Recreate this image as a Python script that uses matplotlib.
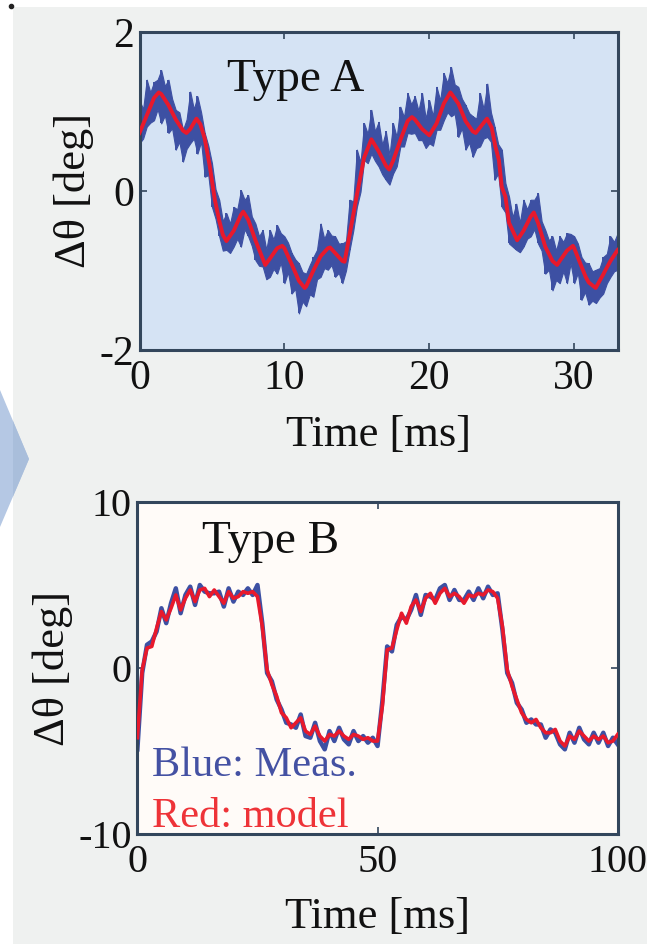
import matplotlib
matplotlib.use("Agg")
import matplotlib.pyplot as plt
from matplotlib.patches import Rectangle, Polygon
from matplotlib.lines import Line2D

# ---------------- Type A data (0 - 33 ms) ----------------
a_model_t = [0.0, 0.5, 1.0, 1.33, 1.5, 2.0, 2.5, 3.0, 3.24, 3.5, 3.93, 4.2, 4.5,
             4.85, 5.0, 5.2, 5.5, 5.75, 6.0, 6.5, 7.0, 7.16, 7.5, 8.0, 8.5, 8.68,
             9.0, 9.5, 9.85, 10.0, 10.5, 11.0, 11.4, 11.5, 12.0, 12.5, 13.0, 13.15,
             13.5, 14.0, 14.15, 14.5, 15.0, 15.5, 16.0, 16.5, 17.0, 17.23, 17.5,
             18.0, 18.5, 18.8, 19.0, 19.5, 20.0, 20.5, 21.0, 21.45, 21.5, 22.0,
             22.5, 23.0, 23.2, 23.5, 23.98, 24.3, 24.56, 24.8, 25.0, 25.25, 25.5,
             26.06, 26.5, 27.0, 27.21, 27.5, 28.0, 28.5, 28.82, 29.0, 29.5, 29.91,
             30.0, 30.5, 30.79, 31.0, 31.48, 32.0, 32.17, 32.5, 33.0, 33.14]
a_model_v = [0.73, 0.95, 1.17, 1.24, 1.22, 1.08, 0.90, 0.76, 0.73, 0.78, 0.91, 0.84, 0.66,
             0.31, 0.13, -0.11, -0.37, -0.55, -0.63, -0.50, -0.30, -0.26, -0.36, -0.62, -0.85, -0.93,
             -0.85, -0.72, -0.69, -0.72, -0.92, -1.13, -1.22, -1.20, -1.00, -0.82, -0.72, -0.71,
             -0.78, -0.88, -0.89, -0.55, -0.05, 0.42, 0.65, 0.50, 0.32, 0.27, 0.38,
             0.64, 0.88, 0.93, 0.90, 0.78, 0.70, 0.85, 1.10, 1.24, 1.23, 1.10,
             0.88, 0.75, 0.73, 0.80, 0.91, 0.80, 0.56, 0.39, 0.05, -0.07, -0.40,
             -0.62, -0.50, -0.32, -0.27, -0.40, -0.70, -0.88, -0.93, -0.88, -0.75, -0.69,
             -0.72, -0.95, -1.08, -1.15, -1.22, -1.05, -0.99, -0.88, -0.74, -0.72]

# measured trace: spike extremes every 0.5 ms ...
a_spike_t = [0.0, 0.5, 1.0, 1.5, 2.0, 2.5, 3.0, 3.5, 4.0, 4.5, 5.0, 5.5, 6.0, 6.5,
             7.0, 7.5, 8.0, 8.5, 9.0, 9.5, 10.0, 10.5, 11.0, 11.5, 12.0, 12.5, 13.0,
             13.5, 14.0, 14.5, 15.0, 15.5, 16.0, 16.5, 17.0, 17.5, 18.0, 18.5, 19.0,
             19.5, 20.0, 20.5, 21.0, 21.5, 22.0, 22.5, 23.0, 23.5, 24.0, 24.5, 25.0,
             25.5, 26.0, 26.5, 27.0, 27.5, 28.0, 28.5, 29.0, 29.5, 30.0, 30.5, 31.0,
             31.5, 32.0, 32.5, 33.0]
a_spike_hi = [1.14, 1.40, 1.37, 1.52, 1.40, 1.02, 0.77, 1.25, 1.19, 0.73, 0.35, -0.11, -0.28,
              -0.20, 0.01, -0.05, -0.41, -0.49, -0.49, -0.43, -0.57, -0.78, -0.91, -1.04, -0.83,
              -0.41, -0.49, -0.57, -0.66, -0.11, 0.52, 0.85, 1.02, 0.87, 0.75, 0.85, 1.06,
              1.23, 1.19, 1.23, 1.14, 1.31, 1.48, 1.56, 1.31, 1.08, 0.94, 1.23, 1.35, 0.81,
              0.52, -0.07, -0.16, -0.11, -0.11, -0.03, -0.49, -0.57, -0.57, -0.53, -0.57,
              -0.83, -0.91, -0.99, -0.83, -0.57, -0.53]
a_spike_lo = [0.60, 0.81, 0.89, 0.85, 0.73, 0.52, 0.37, 0.60, 0.47, 0.18, -0.20, -0.57, -0.74,
              -0.70, -0.70, -0.57, -0.87, -0.95, -1.08, -1.04, -1.16, -1.29, -1.54, -1.45, -1.33,
              -1.08, -0.99, -1.08, -1.16, -0.74, -0.20, 0.39, 0.47, 0.31, 0.14, 0.22, 0.56,
              0.73, 0.73, 0.64, 0.60, 0.77, 0.89, 0.94, 0.68, 0.52, 0.43, 0.56, 0.68, 0.14,
              -0.20, -0.66, -0.74, -0.70, -0.57, -0.66, -1.04, -1.25, -1.16, -1.16, -1.16,
              -1.37, -1.43, -1.41, -1.29, -1.08, -0.99]

# ... and the dense core of the trace in between
a_core_t = [0.25, 0.75, 1.25, 1.75, 2.25, 2.75, 3.25, 3.75, 4.25, 4.75, 5.25, 5.75, 6.25,
            6.75, 7.25, 7.75, 8.25, 8.75, 9.25, 9.75, 10.25, 10.75, 11.25, 11.75, 12.25,
            12.75, 13.25, 13.75, 14.25, 14.75, 15.25, 15.75, 16.25, 16.75, 17.25, 17.75,
            18.25, 18.75, 19.25, 19.75, 20.25, 20.75, 21.25, 21.75, 22.25, 22.75, 23.25,
            23.75, 24.25, 24.75, 25.25, 25.75, 26.25, 26.75, 27.25, 27.75, 28.25, 28.75,
            29.25, 29.75, 30.25, 30.75, 31.25, 31.75, 32.25, 32.75]
a_core_hi = [1.03, 1.24, 1.40, 1.32, 1.16, 0.99, 0.90, 1.03, 0.99, 0.57, 0.02, -0.38, -0.41,
             -0.23, -0.11, -0.32, -0.57, -0.74, -0.61, -0.53, -0.65, -0.86, -1.02, -0.93, -0.74,
             -0.60, -0.56, -0.66, -0.63, -0.13, 0.36, 0.72, 0.75, 0.58, 0.45, 0.68,
             0.93, 1.09, 1.01, 0.91, 0.94, 1.14, 1.36, 1.34, 1.16, 0.98, 0.91,
             1.03, 0.99, 0.59, 0.10, -0.33, -0.40, -0.23, -0.11, -0.38, -0.62, -0.75,
             -0.64, -0.54, -0.66, -0.90, -1.01, -0.97, -0.79, -0.64]
a_core_lo = [0.66, 0.86, 1.03, 0.95, 0.79, 0.62, 0.53, 0.66, 0.62, 0.20, -0.35, -0.75, -0.78,
             -0.60, -0.48, -0.69, -0.94, -1.11, -0.98, -0.90, -1.02, -1.23, -1.39, -1.30, -1.11,
             -0.97, -0.93, -1.03, -1.00, -0.50, -0.01, 0.35, 0.38, 0.21, 0.08, 0.31,
             0.56, 0.72, 0.64, 0.54, 0.57, 0.77, 0.99, 0.97, 0.79, 0.61, 0.54,
             0.66, 0.62, 0.22, -0.27, -0.70, -0.77, -0.60, -0.48, -0.75, -0.99, -1.12,
             -1.01, -0.91, -1.03, -1.27, -1.38, -1.34, -1.16, -1.01]

# ---------------- Type B data (0 - 100 ms) ----------------
b_t = list(range(0, 101))
b_model = [-4.2, -0.1, 1.2, 1.3, 2.4, 3.4, 2.9, 3.6, 4.4, 3.5, 4.2, 4.7, 4.0, 4.7, 4.8,
           4.3, 4.7, 4.3, 3.9, 4.6, 4.2, 4.3, 4.6, 4.5, 4.6, 4.3, 2.5, -0.1, -1.0, -1.7,
           -2.7, -3.0, -3.6, -3.3, -3.0, -3.8, -4.0, -3.5, -4.1, -4.4, -4.0, -4.1, -3.8,
           -4.1, -4.3, -4.0, -4.1, -4.3, -4.2, -4.4, -4.4, -2.3, 1.1, 1.2, 2.3, 3.3, 2.7,
           3.7, 4.1, 3.4, 4.2, 4.5, 3.9, 4.5, 4.8, 4.3, 4.5, 4.3, 3.9, 4.4, 4.3, 4.5, 4.4,
           4.7, 4.6, 4.2, 2.5, -0.1, -1.1, -1.9, -2.7, -3.1, -3.3, -3.1, -3.6, -3.9, -3.9,
           -3.7, -4.4, -4.7, -4.1, -4.3, -3.8, -4.1, -4.4, -4.1, -4.3, -4.1, -4.5, -4.4, -4.0]
b_meas = [-4.9, -0.3, 1.4, 1.6, 2.2, 3.6, 2.7, 3.9, 4.8, 3.3, 4.4, 4.9, 3.8, 5.0, 4.6,
          4.5, 4.5, 4.6, 3.7, 4.8, 4.0, 4.6, 4.4, 4.8, 4.4, 5.0, 2.7, -0.3, -0.8, -1.9,
          -2.5, -3.3, -3.4, -3.6, -2.8, -4.1, -4.2, -3.3, -4.4, -4.9, -3.8, -4.4, -3.6,
          -4.3, -4.6, -3.8, -4.4, -4.1, -4.5, -4.2, -4.7, -2.0, 1.3, 1.0, 2.6, 3.1, 2.9,
          3.5, 4.4, 3.2, 4.4, 4.3, 4.1, 4.8, 5.0, 4.1, 4.7, 4.1, 4.1, 4.6, 4.1, 4.8, 4.2,
          4.9, 4.4, 4.5, 2.3, -0.3, -0.9, -2.1, -2.5, -3.3, -3.1, -3.4, -3.4, -4.2, -3.7,
          -3.9, -4.6, -4.9, -3.9, -4.5, -3.6, -4.3, -4.6, -3.9, -4.5, -3.9, -4.7, -4.2, -4.6]

BLUE = "#3d50a3"
RED = "#e8192c"
SPINE = "#33465c"
INK = "#111111"

plt.rcParams["font.family"] = ["Liberation Serif", "DejaVu Serif"]
plt.rcParams["axes.unicode_minus"] = False

W, H = 647, 944
fig = plt.figure(figsize=(W / 100, H / 100), dpi=100, facecolor="white")


def px(x, y):
    return x / W, 1 - y / H


# page backdrop and the arrow from the slide, kept behind the axes
fig.patches.append(Rectangle(px(13, 944), 1 - 13 / W, (944 - 7) / H,
                             transform=fig.transFigure, facecolor="#eff1f0",
                             edgecolor="none", zorder=-3))
fig.patches.append(Polygon([px(0, 390), px(29, 459), px(0, 527)], closed=True,
                           transform=fig.transFigure, facecolor="#b5c8e4",
                           edgecolor="none", zorder=-2))
fig.patches.append(Polygon([px(13, 421), px(29, 459), px(13, 496.5)], closed=True,
                           transform=fig.transFigure, facecolor="#a9bedb",
                           edgecolor="none", zorder=-1))
fig.lines.append(Line2D([px(11, 6)[0]], [px(11, 6)[1]], transform=fig.transFigure,
                        marker="o", markersize=3, color="#222222", linestyle="none"))


def style(ax, size):
    for s in ax.spines.values():
        s.set_color(SPINE)
        s.set_linewidth(2.2)
    ax.tick_params(direction="in", length=5, width=1.2, color=SPINE,
                   top=True, right=True, labelsize=size, labelcolor=INK)
    ax.tick_params(axis="x", pad=7)
    ax.tick_params(axis="y", pad=4)


# ---- Type A ----
axA = fig.add_axes([139.5 / W, 1 - 350 / H, (617.7 - 139.5) / W, (350 - 32) / H])
axA.set_zorder(1)
axA.set_facecolor("#d5e3f4")

# merge spike samples and core samples into one jagged envelope
env = sorted(list(zip(a_spike_t, a_spike_lo, a_spike_hi)) +
             list(zip(a_core_t, a_core_lo, a_core_hi)))
env_t = [e[0] for e in env]
env_lo = [e[1] for e in env]
env_hi = [e[2] for e in env]
axA.fill_between(env_t, env_lo, env_hi, color=BLUE, linewidth=0.8,
                 edgecolor=BLUE, zorder=2)
axA.vlines(a_spike_t, a_spike_lo, a_spike_hi, color=BLUE, linewidth=1.4, zorder=2)
axA.plot(a_model_t, a_model_v, color=RED, linewidth=2.8, zorder=3)
axA.set_xlim(0, 33)
axA.set_ylim(-2, 2)
axA.set_xticks([0, 10, 20, 30])
axA.set_yticks([-2, 0, 2])
style(axA, 30)
axA.set_xlabel("Time [ms]", fontsize=32, labelpad=12, color=INK)
axA.set_ylabel("Δθ [deg]", fontsize=32, labelpad=4, color=INK)
axA.text(6.05, 1.26, "Type A", fontsize=34, ha="left", va="baseline", color=INK)

# ---- Type B ----
axB = fig.add_axes([137.4 / W, 1 - 834 / H, (617.7 - 137.4) / W, (834 - 502) / H])
axB.set_zorder(1)
axB.set_facecolor("#fffbf8")
axB.plot(b_t, b_meas, color=BLUE, linewidth=3.2, zorder=2)
axB.plot(b_t, b_model, color=RED, linewidth=2.6, zorder=3)
axB.set_xlim(0, 100)
axB.set_ylim(-10, 10)
axB.set_xticks([0, 50, 100])
axB.set_yticks([-10, 0, 10])
style(axB, 29)
axB.set_xlabel("Time [ms]", fontsize=32, labelpad=12, color=INK)
axB.set_ylabel("Δθ [deg]", fontsize=32, labelpad=4, color=INK)
axB.text(13.5, 6.9, "Type B", fontsize=34, ha="left", va="baseline", color=INK)
axB.text(3.0, -6.5, "Blue: Meas.", fontsize=30.5, ha="left", va="baseline", color="#4451a3")
axB.text(3.0, -9.6, "Red: model", fontsize=30.5, ha="left", va="baseline", color="#ee3338")

fig.savefig("out.png", dpi=100, facecolor="white")
